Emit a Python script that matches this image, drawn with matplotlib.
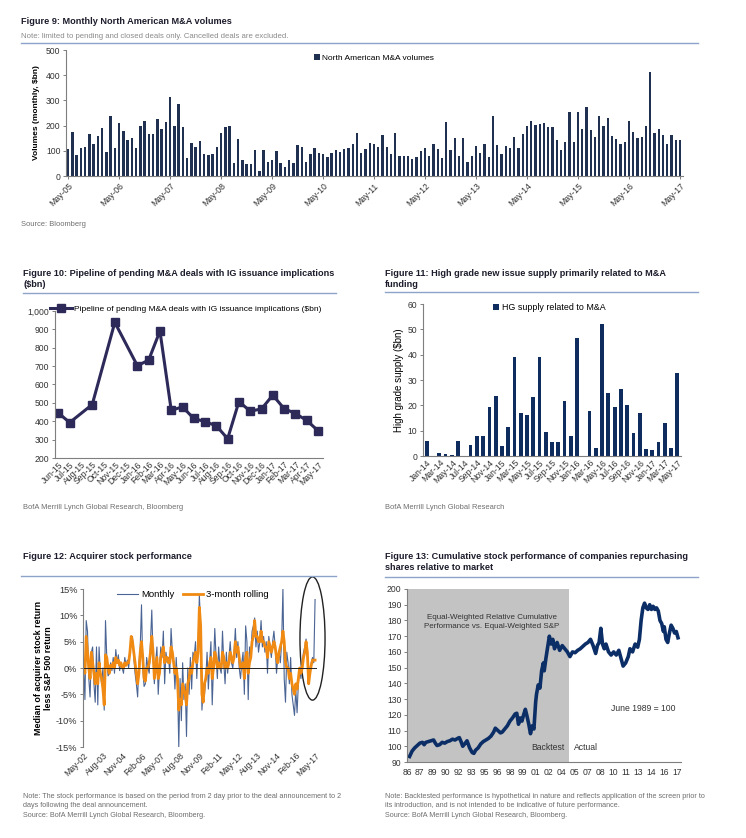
import matplotlib
matplotlib.use('Agg')
import matplotlib.pyplot as plt
import numpy as np
from matplotlib.lines import Line2D
from matplotlib.patches import Ellipse
from matplotlib.ticker import FuncFormatter

plt.rcParams['font.family'] = ['Liberation Sans', 'DejaVu Sans']
TITLE_FONT = ['Liberation Sans', 'DejaVu Sans']
RULE = '#8ea3c8'
NOTE = '#6e6e6e'

# ---- Figure 9: monthly North American M&A volumes ($bn), May-05 .. May-17
ma_ticks = ['May-05', 'May-06', 'May-07', 'May-08', 'May-09', 'May-10', 'May-11',
            'May-12', 'May-13', 'May-14', 'May-15', 'May-16', 'May-17']
ma_volumes = [
    107, 175, 84, 113, 117, 167, 127, 160, 190, 97, 237, 113,
    211, 177, 141, 149, 113, 197, 219, 167, 168, 228, 185, 213,
    313, 200, 284, 195, 73, 131, 115, 137, 87, 84, 87, 115,
    171, 196, 197, 51, 147, 65, 48, 48, 103, 20, 103, 57,
    63, 101, 51, 37, 63, 53, 123, 117, 55, 89, 113, 93,
    88, 77, 92, 103, 95, 107, 112, 125, 171, 92, 108, 131,
    125, 117, 161, 116, 89, 172, 79, 79, 79, 69, 76, 101,
    113, 81, 127, 109, 71, 215, 103, 152, 80, 152, 55, 80,
    121, 92, 127, 75, 240, 123, 87, 121, 113, 153, 111, 165,
    197, 217, 204, 207, 212, 195, 193, 144, 104, 133, 252, 136,
    252, 188, 273, 184, 156, 237, 197, 231, 159, 147, 127, 133,
    219, 176, 152, 155, 200, 413, 171, 185, 161, 125, 161, 143,
    141,
]

# ---- Figure 10: pipeline of pending M&A deals ($bn); None = no observation
pipe_months = ['Jun-15', 'Jul-15', 'Aug-15', 'Sep-15', 'Oct-15', 'Nov-15', 'Dec-15',
               'Jan-16', 'Feb-16', 'Mar-16', 'Apr-16', 'May-16', 'Jun-16', 'Jul-16',
               'Aug-16', 'Sep-16', 'Oct-16', 'Nov-16', 'Dec-16', 'Jan-17', 'Feb-17',
               'Mar-17', 'Apr-17', 'May-17']
pipeline = [445, 393, None, 491, None, 938, None, 702, 733, 891, 460, 478, 415, 398,
            375, 305, 507, 455, 467, 542, 469, 442, 405, 349]

# ---- Figure 11: HG supply related to M&A ($bn), Jan-14 .. May-17
hg_months = ['Jan-14', 'Feb-14', 'Mar-14', 'Apr-14', 'May-14', 'Jun-14', 'Jul-14',
             'Aug-14', 'Sep-14', 'Oct-14', 'Nov-14', 'Dec-14', 'Jan-15', 'Feb-15',
             'Mar-15', 'Apr-15', 'May-15', 'Jun-15', 'Jul-15', 'Aug-15', 'Sep-15',
             'Oct-15', 'Nov-15', 'Dec-15', 'Jan-16', 'Feb-16', 'Mar-16', 'Apr-16',
             'May-16', 'Jun-16', 'Jul-16', 'Aug-16', 'Sep-16', 'Oct-16', 'Nov-16',
             'Dec-16', 'Jan-17', 'Feb-17', 'Mar-17', 'Apr-17', 'May-17']
hg_supply = [5.9, 0, 1.2, 0.6, 0.4, 5.9, 0, 4.4, 7.7, 8.0, 19.5, 23.5, 4.0, 11.3,
             38.9, 16.9, 16.2, 23.1, 38.9, 9.6, 5.7, 5.7, 21.8, 7.7, 46.6, 0, 17.8,
             3.3, 52.1, 24.8, 19.5, 26.4, 20.3, 9.0, 17.1, 2.8, 2.2, 5.4, 13.2, 3.3, 32.8]

# ---- Figure 12: acquirer stock performance (%), May-02 .. May-17
acq_ticks = ['May-02', 'Aug-03', 'Nov-04', 'Feb-06', 'May-07', 'Aug-08', 'Nov-09',
             'Feb-11', 'May-12', 'Aug-13', 'Nov-14', 'Feb-16', 'May-17']
acq_monthly = [
    0, -6, 9, 7, -2, -5.5, 3, 4, -3, -6.5, 4, -7,
    4, -1, -3, 0, -8, 9, 2, -1.5, -1, 1, -0.5, 2,
    -1, 3.5, 1, 2.5, -0.5, 1, 0, -1, 2, 0.5, 1.5, 0,
    3, 5, 6, 2, -1, -3, -5.5, 1, 4, 12, 0, -3.5,
    -3, 2, 0, -1, 5, 11, 2, -3, 1, 4, -5, 0,
    4, 2, 7, -3, 3, 1, 2, -1, 7.5, 3, 1, -4,
    2, -3, -15, -2, -10, 1, -6, -3, -13, 0, -5, 2,
    -4, 3, 2, 5, -2, 4, 13.8, 8, -8, -4, -5, -2,
    3, -4, 1, 5, -7, 0, 7.5, 2, -2, 4, 0, -1,
    7, 1, -3, 3, -1, 2, 5, 1, 0, 3, 7.5, 2,
    5, 0, -2, 1, 3, -5, 8, 5, -6, 4, 2, 7,
    8, 9.5, 4, 7, 3, 5, 9, 4, 6, 3, 5, -1,
    6, 4, 2, 5, 7, 4, -1, 2, 3, 1, 5, 15,
    -2, -6.5, 3, 1, -3, 2, -5, -7, -9, -4, -8.5, -3,
    0, -2, 1, 3, 4, 5.5, 2, -3, -1, 1, 2, 1, 13,
]
acq_rolling = [
    0, -1, 6, 3, 0, -2, 3, 1, -1, -3, -1, -3,
    1, -1, -2, -4, -7, 2.5, 2, 0, -1, 0.5, 0, 1,
    0, 2, 1, 1.5, 0.5, 1, 0, 0, 1, 0.5, 1, 1,
    3, 6, 5, 3, 1, -1, -3, -1, 3, 5, 2, -2,
    -2.5, 0, 0, 1, 3, 6, 3, -2, 0, 2, -2, -1,
    2, 3, 4, 1, 2, 2, 1, 1, 4, 3, 1, -1,
    0, -2, -8, -6, -7, -3, -4, -5, -7, -3, -2, 0,
    -1, 1, 2, 3, 1, 3, 11.5, 8, -5, -6.5, -3, -2,
    0, -1, 1, 2, -2, 0, 3, 2, 0, 1, 0, 0,
    3, 2, 0, 1, 0, 1, 3, 2, 1, 2, 5, 3,
    4, 2, 0, 0, 1, -2, 2, 3, -1, 1, 2, 5,
    6, 9, 6, 6, 5, 5, 7, 5, 5, 4, 4, 2,
    5, 4, 3, 4, 5, 4, 2, 1, 3, 4, 5, 7,
    5, 1, 0, 0, -2, -1, -3, -4, -5, -3, -4, -2,
    0, -1, 0, 2, 3, 5, 3, -3, -1, 0.5, 1.5, 1.5, 1.5,
]

# ---- Figure 13: cumulative relative performance (June 1989 = 100)
perf_years = [
    1986.3, 1986.6, 1986.9, 1987.2, 1987.5, 1987.8,
    1988.0, 1988.2, 1988.5, 1988.8, 1989.1, 1989.3, 1989.5, 1989.8,
    1990.1, 1990.4, 1990.7, 1991.0, 1991.3, 1991.6, 1991.9,
    1992.1, 1992.3, 1992.5, 1992.8, 1993.0, 1993.3, 1993.6, 1993.8,
    1994.0, 1994.3, 1994.6, 1994.9, 1995.2, 1995.5, 1995.8,
    1996.1, 1996.3, 1996.6, 1996.9, 1997.1, 1997.4, 1997.7,
    1998.0, 1998.3, 1998.6, 1998.8, 1999.0, 1999.2, 1999.4, 1999.6, 1999.8,
    2000.0, 2000.2, 2000.4, 2000.6, 2000.8, 2001.0, 2001.1, 2001.3, 2001.5, 2001.7, 2001.9,
    2002.0, 2002.2, 2002.4, 2002.6, 2002.8, 2003.0, 2003.2, 2003.5, 2003.8,
    2004.1, 2004.4, 2004.7, 2005.0, 2005.3, 2005.6, 2005.9,
    2006.2, 2006.5, 2006.8, 2007.1, 2007.4, 2007.7,
    2008.0, 2008.2, 2008.4, 2008.6, 2008.8, 2009.0, 2009.2, 2009.5, 2009.8,
    2010.1, 2010.4, 2010.7, 2011.0, 2011.2, 2011.5, 2011.8,
    2012.0, 2012.3, 2012.6, 2012.9, 2013.1, 2013.3, 2013.5, 2013.7, 2013.9,
    2014.1, 2014.3, 2014.5, 2014.7, 2014.9, 2015.1, 2015.3, 2015.5, 2015.7, 2015.9,
    2016.0, 2016.2, 2016.4, 2016.6, 2016.8, 2017.0, 2017.2, 2017.4, 2017.6,
]
perf_values = [
    93.5, 97, 99, 100.5, 102, 102.5,
    101, 102.5, 103, 103.5, 104, 102, 100.5, 101,
    102.5, 102, 103, 103.5, 104.5, 104, 105,
    105.5, 103, 100, 102, 103.5, 99, 96, 95.5,
    97.5, 99, 101.5, 103, 104, 105, 106.5,
    109, 111.5, 110, 108.5, 109, 111, 113,
    116, 118, 120.5, 121, 114, 118, 116, 120, 123.5,
    119, 114, 108, 113, 111, 128, 133, 139, 137, 148, 153,
    148, 156, 163, 170, 165, 168, 162, 166, 161,
    164, 162, 160, 157, 160, 159.5, 161,
    162, 163.5, 165, 166, 168, 164,
    159, 164, 166, 175, 165, 162, 165, 160, 158,
    160, 158, 161, 155, 151, 153, 157,
    162, 160, 165, 163, 168, 180, 188, 191, 188,
    187, 190, 187, 189, 187, 188, 186, 180, 178, 173,
    176, 168, 166, 172, 177, 175, 172, 173, 169,
]
perf_tick_labels = ['86', '87', '89', '90', '92', '93', '95', '96', '98', '99', '01',
                    '02', '04', '05', '07', '08', '10', '11', '13', '14', '16', '17']

W, H = 746, 838
fig = plt.figure(figsize=(7.46, 8.38), dpi=100)


def axes_px(l, t, r, b):
    return fig.add_axes([l / W, 1 - b / H, (r - l) / W, (b - t) / H])


def text_px(x, y, s, **kw):
    fig.text(x / W, 1 - y / H, s, **kw)


def rule_px(x0, x1, y):
    fig.add_artist(Line2D([x0 / W, x1 / W], [1 - y / H] * 2, color=RULE, lw=1.0))


def style(ax):
    for s in ['top', 'right']:
        ax.spines[s].set_visible(False)
    for s in ['left', 'bottom']:
        ax.spines[s].set_color('#7f7f7f')
        ax.spines[s].set_linewidth(0.8)
    ax.tick_params(labelsize=6.2, length=2.5, width=0.7, color='#7f7f7f', pad=1.5,
                   labelcolor='#333333')


def title(x, y, s):
    text_px(x, y, s, fontsize=6.6, fontweight='bold', family=TITLE_FONT,
            color='#1c1c2c', va='top', linespacing=1.3)


# ================= Figure 9
title(21, 17, 'Figure 9: Monthly North American M&A volumes')
text_px(21, 37, 'Note: limited to pending and closed deals only. Cancelled deals are excluded.',
        fontsize=5.6, color='#8a8a8a', va='center')
rule_px(21, 698, 43)
ax9 = axes_px(66, 50, 683, 176)
style(ax9)
ax9.bar(np.arange(len(ma_volumes)), ma_volumes, width=0.55, color='#1f3050',
        label='North American M&A volumes')
ax9.set_xlim(-0.5, 144.7)
ax9.set_ylim(0, 500)
ax9.set_yticks(range(0, 501, 100))
ax9.set_xticks(range(0, 145, 12))
ax9.set_xticklabels(ma_ticks, rotation=45, ha='right', rotation_mode='anchor')
ax9.set_ylabel('Volumes (monthly, $bn)', fontsize=6, fontweight='bold', labelpad=4)
ax9.legend(loc='upper left', bbox_to_anchor=(0.39, 1.03), frameon=False, fontsize=6,
           handlelength=0.7, handleheight=0.7, handletextpad=0.3)
text_px(21, 224, 'Source: Bloomberg', fontsize=5.4, color=NOTE, va='center')

# ================= Figure 10
title(23, 269, 'Figure 10: Pipeline of pending M&A deals with IG issuance implications\n($bn)')
rule_px(23, 336, 293)
ax10 = axes_px(55, 311, 323, 458)
style(ax10)
px = [i for i, v in enumerate(pipeline) if v is not None]
pv = [v for v in pipeline if v is not None]
ax10.plot(px, pv, color='#2d2a5a', lw=2.2, marker='s', ms=5.5,
          label='Pipeline of pending M&A deals with IG issuance implications ($bn)')
ax10.set_xlim(-0.3, 23.45)
ax10.set_ylim(200, 1000)
ax10.set_yticks(range(200, 1001, 100))
ax10.yaxis.set_major_formatter(FuncFormatter(lambda v, p: f'{int(v):,}'))
ax10.set_xticks(range(len(pipe_months)))
ax10.set_xticklabels(pipe_months, rotation=45, ha='right', rotation_mode='anchor')
ax10.tick_params(axis='x', length=0)
ax10.legend(loc='upper left', bbox_to_anchor=(-0.03, 1.06), frameon=False, fontsize=6,
            handlelength=2.6, handletextpad=0.2, borderaxespad=0)
text_px(23, 507, 'BofA Merrill Lynch Global Research, Bloomberg', fontsize=5.4,
        color=NOTE, va='center')

# ================= Figure 11
title(385, 269, 'Figure 11: High grade new issue supply primarily related to M&A\nfunding')
rule_px(385, 698, 292)
ax11 = axes_px(423, 304, 681, 456)
style(ax11)
ax11.bar(np.arange(len(hg_supply)), hg_supply, width=0.6, color='#0f2c5f',
         label='HG supply related to M&A')
ax11.set_xlim(-0.6, 40.6)
ax11.set_ylim(0, 60)
ax11.set_yticks(range(0, 61, 10))
ax11.set_xticks(range(0, len(hg_months), 2))
ax11.set_xticklabels(hg_months[::2], rotation=45, ha='right', rotation_mode='anchor')
ax11.tick_params(axis='x', length=0)
ax11.set_ylabel('High grade supply ($bn)', fontsize=7, labelpad=3)
ax11.legend(loc='upper left', bbox_to_anchor=(0.24, 1.06), frameon=False, fontsize=6.4,
            handlelength=0.7, handleheight=0.7, handletextpad=0.3)
text_px(385, 507, 'BofA Merrill Lynch Global Research', fontsize=5.4, color=NOTE,
        va='center')

# ================= Figure 12
title(23, 552, 'Figure 12: Acquirer stock performance')
rule_px(21, 336, 576)
ax12 = axes_px(83, 589, 317, 747)
style(ax12)
ax12.spines['bottom'].set_visible(False)
mx = np.arange(len(acq_monthly))
ax12.plot(mx, acq_monthly, color='#4a6494', lw=0.8, label='Monthly')
ax12.plot(mx, acq_rolling, color='#f08a12', lw=2.0, label='3-month rolling')
ax12.axhline(0, color='#222222', lw=0.7)
ax12.set_xlim(-0.5, 181.5)
ax12.set_ylim(-15, 15)
ax12.set_yticks(range(-15, 16, 5))
ax12.yaxis.set_major_formatter(FuncFormatter(lambda v, p: f'{int(v)}%'))
ax12.set_xticks(range(0, 181, 15))
ax12.set_xticklabels(acq_ticks, rotation=45, ha='right', rotation_mode='anchor')
ax12.tick_params(axis='x', length=0, pad=3)
ax12.tick_params(axis='y', labelsize=6.6)
ax12.set_ylabel('Median of acquirer stock return\nless S&P 500 return', fontsize=6.4,
                fontweight='bold', labelpad=2)
ax12.legend(loc='upper center', bbox_to_anchor=(0.47, 1.045), ncol=2, frameon=False,
            fontsize=6.8, handlelength=2.2, handletextpad=0.3, columnspacing=0.9)
ax12.add_patch(Ellipse((178, 5.6), 19.5, 23.4, fill=False, ec='#222222', lw=1.0,
                       clip_on=False))
text_px(23, 793, 'Note: The stock performance is based on the period from 2 day prior to the '
        'deal announcement to 2\ndays following the deal announcement.\n'
        'Source: BofA Merrill Lynch Global Research, Bloomberg.',
        fontsize=5.2, color=NOTE, va='top', linespacing=1.45)

# ================= Figure 13
title(385, 552, 'Figure 13: Cumulative stock performance of companies repurchasing\n'
      'shares relative to market')
rule_px(385, 698, 577)
ax13 = axes_px(407, 589, 681, 762)
style(ax13)
ax13.axvspan(1986, 2004.85, color='#c3c3c3', lw=0)
ax13.plot(perf_years, perf_values, color='#0c2e66', lw=2.6)
ax13.set_xlim(1986, 2017.95)
ax13.set_ylim(90, 200)
ax13.set_yticks(range(90, 201, 10))
ax13.set_xticks([1986 + 1.5 * k for k in range(len(perf_tick_labels))])
ax13.set_xticklabels(perf_tick_labels)
ax13.tick_params(axis='x', length=0, pad=4)
ax13.text(1995.9, 179, 'Equal-Weighted Relative Cumulative\nPerformance vs. Equal-Weighted S&P',
          ha='center', va='center', fontsize=5.8, color='#333333', linespacing=1.3)
ax13.text(2013.5, 124, 'June 1989 = 100', ha='center', va='center', fontsize=6.2,
          color='#333333')
ax13.text(2004.4, 99.5, 'Backtest', ha='right', va='center', fontsize=6.2, color='#333333')
ax13.text(2005.5, 99.5, 'Actual', ha='left', va='center', fontsize=6.2, color='#333333')
text_px(385, 793, 'Note: Backtested performance is hypothetical in nature and reflects application '
        'of the screen prior to\nits introduction, and is not intended to be indicative of '
        'future performance.\nSource: BofA Merrill Lynch Global Research, Bloomberg.',
        fontsize=5.2, color=NOTE, va='top', linespacing=1.45)

fig.savefig('out.png', dpi=100)
